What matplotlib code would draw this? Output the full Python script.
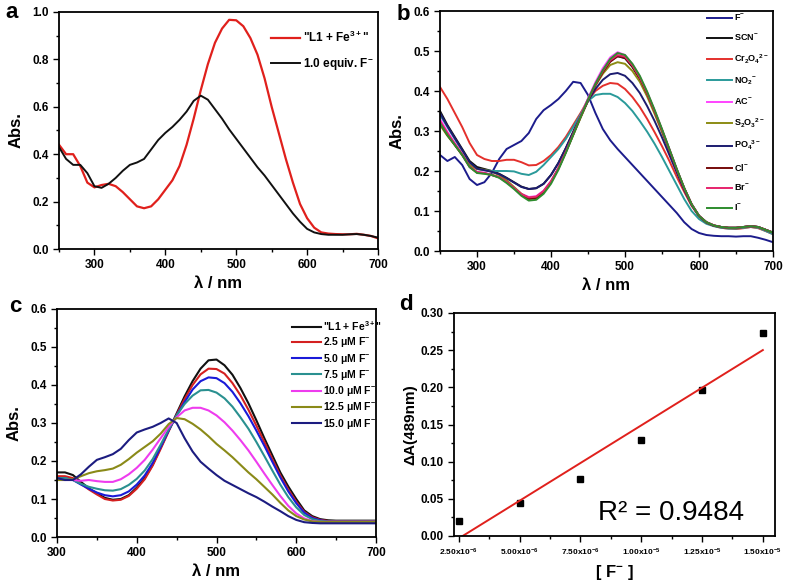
import numpy as np
import matplotlib
matplotlib.use('Agg')
import matplotlib.pyplot as plt
from matplotlib.ticker import MultipleLocator, FixedLocator

plt.rcParams['font.family'] = ['Liberation Sans', 'DejaVu Sans']
plt.rcParams['font.weight'] = 'bold'
plt.rcParams['mathtext.fontset'] = 'custom'
plt.rcParams['mathtext.rm'] = 'Liberation Sans:bold'
plt.rcParams['mathtext.bf'] = 'Liberation Sans:bold'
plt.rcParams['mathtext.it'] = 'Liberation Sans:bold'
plt.rcParams['mathtext.default'] = 'rm'

# ---- panel a ----
wl_a = list(range(250, 701, 10))
a_fe = [0.44, 0.40, 0.40, 0.35, 0.28, 0.26, 0.27, 0.275, 0.265, 0.24, 0.21, 0.18, 0.172, 0.18, 0.21, 0.25,
        0.29, 0.35, 0.44, 0.55, 0.67, 0.78, 0.87, 0.93, 0.967, 0.965, 0.94, 0.89, 0.82, 0.72, 0.60, 0.49,
        0.38, 0.28, 0.19, 0.13, 0.09, 0.07, 0.065, 0.063, 0.062, 0.062, 0.064, 0.06, 0.055, 0.045]
a_f = [0.43, 0.38, 0.355, 0.355, 0.32, 0.265, 0.258, 0.275, 0.30, 0.33, 0.355, 0.365, 0.38, 0.42, 0.46, 0.49,
       0.515, 0.545, 0.58, 0.625, 0.647, 0.63, 0.59, 0.55, 0.505, 0.465, 0.425, 0.385, 0.345, 0.31, 0.27, 0.23,
       0.19, 0.15, 0.115, 0.085, 0.07, 0.063, 0.06, 0.06, 0.06, 0.062, 0.063, 0.06, 0.055, 0.048]
a_labels = ['"L1 + Fe$^{3+}$"', '1.0 equiv. F$^{-}$']

# ---- panel b ----
wl_b = list(range(250, 701, 10))
b_F = [0.24, 0.225, 0.235, 0.215, 0.18, 0.165, 0.172, 0.195, 0.23, 0.255, 0.265, 0.275, 0.295, 0.33, 0.352, 0.365,
       0.38, 0.40, 0.423, 0.42, 0.39, 0.345, 0.305, 0.277, 0.255, 0.235, 0.215, 0.195, 0.175, 0.155, 0.135, 0.115,
       0.095, 0.072, 0.055, 0.045, 0.04, 0.038, 0.037, 0.037, 0.036, 0.037, 0.037, 0.033, 0.028, 0.022]
b_SCN = [0.35, 0.315, 0.285, 0.255, 0.225, 0.21, 0.205, 0.2, 0.193, 0.183, 0.172, 0.161, 0.155, 0.157, 0.168, 0.19,
         0.22, 0.257, 0.298, 0.34, 0.38, 0.418, 0.45, 0.475, 0.487, 0.482, 0.46, 0.43, 0.392, 0.348, 0.301, 0.252,
         0.203, 0.157, 0.117, 0.088, 0.072, 0.064, 0.06, 0.058, 0.058, 0.06, 0.062, 0.06, 0.053, 0.046]
b_Cr = [0.41, 0.38, 0.345, 0.31, 0.27, 0.24, 0.23, 0.225, 0.225, 0.228, 0.228, 0.222, 0.214, 0.215, 0.225, 0.24,
        0.26, 0.285, 0.315, 0.345, 0.377, 0.40, 0.413, 0.42, 0.418, 0.405, 0.385, 0.36, 0.33, 0.297, 0.262, 0.225,
        0.185, 0.148, 0.113, 0.087, 0.071, 0.063, 0.058, 0.056, 0.055, 0.057, 0.06, 0.057, 0.05, 0.042]
b_NO2 = [0.34, 0.31, 0.28, 0.25, 0.22, 0.205, 0.202, 0.2, 0.2, 0.2, 0.199, 0.193, 0.19, 0.198, 0.215, 0.235,
         0.255, 0.28, 0.31, 0.342, 0.375, 0.39, 0.393, 0.393, 0.385, 0.37, 0.35, 0.325, 0.298, 0.268, 0.235, 0.20,
         0.165, 0.13, 0.10, 0.08, 0.068, 0.062, 0.058, 0.056, 0.056, 0.058, 0.06, 0.058, 0.05, 0.042]
b_AC = [0.33, 0.298, 0.27, 0.243, 0.213, 0.198, 0.196, 0.19, 0.185, 0.173, 0.158, 0.143, 0.135, 0.137, 0.151, 0.175,
        0.208, 0.25, 0.294, 0.338, 0.381, 0.422, 0.457, 0.484, 0.497, 0.49, 0.467, 0.436, 0.396, 0.351, 0.303, 0.254,
        0.204, 0.157, 0.117, 0.088, 0.072, 0.064, 0.06, 0.058, 0.058, 0.06, 0.062, 0.06, 0.053, 0.046]
b_S2O3 = [0.315, 0.288, 0.265, 0.24, 0.215, 0.205, 0.203, 0.198, 0.19, 0.177, 0.16, 0.143, 0.132, 0.134, 0.149, 0.173,
          0.206, 0.247, 0.29, 0.333, 0.375, 0.413, 0.443, 0.465, 0.472, 0.468, 0.45, 0.423, 0.386, 0.343, 0.297, 0.25,
          0.202, 0.156, 0.116, 0.087, 0.071, 0.063, 0.06, 0.058, 0.058, 0.06, 0.062, 0.06, 0.053, 0.046]
b_PO4 = [0.345, 0.312, 0.282, 0.253, 0.222, 0.206, 0.202, 0.198, 0.192, 0.182, 0.171, 0.16, 0.155, 0.157, 0.168, 0.19,
         0.22, 0.257, 0.297, 0.337, 0.375, 0.405, 0.428, 0.442, 0.445, 0.438, 0.42, 0.395, 0.362, 0.325, 0.284, 0.24,
         0.196, 0.153, 0.115, 0.087, 0.071, 0.063, 0.06, 0.058, 0.058, 0.06, 0.062, 0.06, 0.053, 0.046]
b_Cl = [0.32, 0.29, 0.265, 0.24, 0.21, 0.196, 0.194, 0.19, 0.184, 0.172, 0.157, 0.14, 0.13, 0.132, 0.147, 0.172,
        0.206, 0.247, 0.291, 0.335, 0.377, 0.415, 0.447, 0.473, 0.487, 0.483, 0.462, 0.432, 0.393, 0.349, 0.302, 0.253,
        0.203, 0.157, 0.117, 0.088, 0.072, 0.064, 0.06, 0.058, 0.058, 0.06, 0.062, 0.06, 0.053, 0.046]
b_Br = [0.325, 0.295, 0.268, 0.242, 0.212, 0.197, 0.195, 0.19, 0.185, 0.173, 0.158, 0.142, 0.134, 0.136, 0.15, 0.174,
        0.207, 0.248, 0.292, 0.336, 0.378, 0.417, 0.45, 0.477, 0.49, 0.486, 0.464, 0.434, 0.395, 0.35, 0.303, 0.254,
        0.204, 0.157, 0.117, 0.088, 0.072, 0.064, 0.06, 0.058, 0.058, 0.06, 0.062, 0.06, 0.053, 0.046]
b_I = [0.32, 0.29, 0.265, 0.24, 0.21, 0.195, 0.193, 0.19, 0.183, 0.17, 0.155, 0.138, 0.126, 0.128, 0.143, 0.168,
       0.203, 0.245, 0.29, 0.335, 0.378, 0.418, 0.452, 0.48, 0.495, 0.49, 0.468, 0.438, 0.398, 0.353, 0.305, 0.255,
       0.205, 0.158, 0.117, 0.088, 0.072, 0.064, 0.06, 0.058, 0.058, 0.06, 0.062, 0.06, 0.053, 0.046]
b_labels = ['F$^{-}$', 'SCN$^{-}$', 'Cr$_{2}$O$_{4}$$^{2-}$', 'NO$_{2}$$^{-}$', 'AC$^{-}$',
            'S$_{2}$O$_{3}$$^{2-}$', 'PO$_{4}$$^{3-}$', 'Cl$^{-}$', 'Br$^{-}$', 'I$^{-}$']
b_colors = ['#1c1c8c', '#111111', '#e4302c', '#2a9a9a', '#ff44ff',
            '#8c8c14', '#1c1c70', '#760a0a', '#e6246c', '#2e8c2e']

# ---- panel c ----
wl_c = list(range(300, 701, 10))
c_0 = [0.17, 0.17, 0.163, 0.145, 0.128, 0.115, 0.103, 0.098, 0.10, 0.11, 0.13, 0.155, 0.19, 0.235, 0.28, 0.325,
       0.37, 0.41, 0.443, 0.465, 0.467, 0.452, 0.427, 0.392, 0.352, 0.307, 0.26, 0.215, 0.17, 0.133, 0.10, 0.07,
       0.055, 0.047, 0.044, 0.043, 0.043, 0.043, 0.043, 0.043, 0.043]
c_25 = [0.16, 0.16, 0.155, 0.14, 0.125, 0.112, 0.10, 0.096, 0.098, 0.108, 0.127, 0.152, 0.188, 0.232, 0.278, 0.322,
        0.363, 0.40, 0.428, 0.443, 0.442, 0.43, 0.405, 0.373, 0.335, 0.293, 0.25, 0.205, 0.162, 0.125, 0.093, 0.066,
        0.052, 0.045, 0.042, 0.042, 0.042, 0.042, 0.042, 0.042, 0.042]
c_50 = [0.155, 0.155, 0.15, 0.138, 0.127, 0.117, 0.11, 0.107, 0.11, 0.12, 0.138, 0.162, 0.195, 0.237, 0.28, 0.32,
        0.355, 0.388, 0.41, 0.42, 0.418, 0.405, 0.382, 0.352, 0.318, 0.28, 0.24, 0.198, 0.157, 0.12, 0.089, 0.064,
        0.05, 0.044, 0.041, 0.041, 0.041, 0.041, 0.041, 0.041, 0.041]
c_75 = [0.155, 0.155, 0.15, 0.14, 0.132, 0.127, 0.123, 0.122, 0.126, 0.137, 0.153, 0.175, 0.205, 0.243, 0.283, 0.32,
        0.35, 0.372, 0.386, 0.387, 0.38, 0.365, 0.343, 0.315, 0.285, 0.25, 0.213, 0.175, 0.138, 0.105, 0.078, 0.058,
        0.047, 0.042, 0.04, 0.04, 0.04, 0.04, 0.04, 0.04, 0.04]
c_100 = [0.15, 0.15, 0.15, 0.148, 0.15, 0.147, 0.145, 0.145, 0.152, 0.165, 0.182, 0.203, 0.23, 0.26, 0.29, 0.315,
         0.333, 0.34, 0.34, 0.333, 0.32, 0.302, 0.28, 0.255, 0.228, 0.198, 0.167, 0.137, 0.108, 0.082, 0.062, 0.049,
         0.042, 0.04, 0.04, 0.04, 0.04, 0.04, 0.04, 0.04, 0.04]
c_125 = [0.15, 0.15, 0.152, 0.16, 0.168, 0.173, 0.176, 0.18, 0.19, 0.205, 0.222, 0.237, 0.252, 0.272, 0.297, 0.313,
         0.31, 0.298, 0.283, 0.265, 0.245, 0.228, 0.21, 0.19, 0.17, 0.152, 0.132, 0.112, 0.09, 0.07, 0.055, 0.046,
         0.041, 0.04, 0.04, 0.04, 0.04, 0.04, 0.04, 0.04, 0.04]
c_150 = [0.155, 0.15, 0.15, 0.165, 0.185, 0.203, 0.21, 0.218, 0.232, 0.255, 0.275, 0.283, 0.29, 0.30, 0.312, 0.30,
         0.26, 0.225, 0.198, 0.18, 0.163, 0.148, 0.137, 0.126, 0.115, 0.105, 0.093, 0.08, 0.068, 0.055, 0.045, 0.039,
         0.037, 0.036, 0.036, 0.036, 0.036, 0.036, 0.036, 0.036, 0.036]
c_labels = ['"L1 + Fe$^{3+}$"', '2.5 μM F$^{-}$', '5.0 μM F$^{-}$', '7.5 μM F$^{-}$',
            '10.0 μM F$^{-}$', '12.5 μM F$^{-}$', '15.0 μM F$^{-}$']
c_colors = ['#111111', '#d42020', '#1a1ad8', '#2a9090', '#ee3cee', '#8a8a18', '#1c1c80']

# ---- panel d ----
d_conc = [2.5e-6, 5.0e-6, 7.5e-6, 1.0e-5, 1.25e-5, 1.5e-5]
d_dA = [0.020, 0.045, 0.077, 0.129, 0.197, 0.273]
d_ticklabels = ['2.50x10$^{-6}$', '5.00x10$^{-6}$', '7.50x10$^{-6}$',
                '1.00x10$^{-5}$', '1.25x10$^{-5}$', '1.50x10$^{-5}$']

W, H = 790, 584
fig = plt.figure(figsize=(W / 100, H / 100), dpi=100)


def box(l, t, r, b):
    return [l / W, 1 - b / H, (r - l) / W, (b - t) / H]


def style(ax, lsize=8.5):
    ax.tick_params(which='both', direction='out', top=False, right=False, labelsize=lsize, width=1)
    ax.tick_params(which='major', length=4)
    ax.tick_params(which='minor', length=2.5)
    for s in ax.spines.values():
        s.set_linewidth(1.3)
    for lab in ax.get_xticklabels() + ax.get_yticklabels():
        lab.set_fontweight('bold')


# a
ax = fig.add_axes(box(59, 12, 378, 249))
ax.plot(wl_a, a_fe, color='#e0201c', lw=1.6, label=a_labels[0])
ax.plot(wl_a, a_f, color='#111111', lw=1.4, label=a_labels[1])
ax.set_xlim(250, 700)
ax.set_ylim(0, 1.0)
ax.xaxis.set_major_locator(MultipleLocator(100))
ax.xaxis.set_minor_locator(MultipleLocator(50))
ax.yaxis.set_major_locator(MultipleLocator(0.2))
ax.yaxis.set_minor_locator(MultipleLocator(0.1))
ax.set_xlabel('λ / nm', fontsize=12, fontweight='bold', labelpad=3)
ax.set_ylabel('Abs.', fontsize=12, fontweight='bold', labelpad=6)
style(ax)
ax.legend(loc='upper left', bbox_to_anchor=(265 / W, 1 - 24 / H), bbox_transform=fig.transFigure,
          frameon=False, fontsize=8.5, handlelength=2.5, handletextpad=0.2, labelspacing=0.95, borderpad=0)

# b
ax = fig.add_axes(box(440, 11, 773, 251))
for y, lab, col in zip([b_F, b_SCN, b_Cr, b_NO2, b_AC, b_S2O3, b_PO4, b_Cl, b_Br, b_I], b_labels, b_colors):
    ax.plot(wl_b, y, color=col, lw=1.4, label=lab)
ax.set_xlim(250, 700)
ax.set_ylim(0, 0.6)
ax.xaxis.set_major_locator(MultipleLocator(100))
ax.xaxis.set_minor_locator(MultipleLocator(50))
ax.yaxis.set_major_locator(MultipleLocator(0.1))
ax.yaxis.set_minor_locator(MultipleLocator(0.05))
ax.set_xlabel('λ / nm', fontsize=12, fontweight='bold', labelpad=3)
ax.set_ylabel('Abs.', fontsize=12, fontweight='bold', labelpad=6)
style(ax)
ax.legend(loc='upper left', bbox_to_anchor=(702 / W, 1 - 8 / H), bbox_transform=fig.transFigure,
          frameon=False, fontsize=6.5, handlelength=2.8, handletextpad=0.3, labelspacing=1.05, borderpad=0)

# c
ax = fig.add_axes(box(57, 309, 376, 537))
for y, lab, col in zip([c_0, c_25, c_50, c_75, c_100, c_125, c_150], c_labels, c_colors):
    ax.plot(wl_c, y, color=col, lw=1.5, label=lab)
ax.set_xlim(300, 700)
ax.set_ylim(0, 0.6)
ax.xaxis.set_major_locator(MultipleLocator(100))
ax.xaxis.set_minor_locator(MultipleLocator(50))
ax.yaxis.set_major_locator(MultipleLocator(0.1))
ax.yaxis.set_minor_locator(MultipleLocator(0.05))
ax.set_xlabel('λ / nm', fontsize=12, fontweight='bold', labelpad=3)
ax.set_ylabel('Abs.', fontsize=12, fontweight='bold', labelpad=6)
style(ax)
ax.legend(loc='upper left', bbox_to_anchor=(287 / W, 1 - 314 / H), bbox_transform=fig.transFigure,
          frameon=False, fontsize=7.5, handlelength=2.8, handletextpad=0.2, labelspacing=0.22, borderpad=0)

# d
ax = fig.add_axes(box(454, 313, 775, 536))
ax.plot(d_conc, d_dA, 's', color='black', ms=4.5)
slope, icpt = np.polyfit(d_conc, d_dA, 1)
xs = np.array([d_conc[0], d_conc[-1]])
ax.plot(xs, slope * xs + icpt, color='#e0201c', lw=1.4)
ax.set_xlim(2.3e-6, 1.55e-5)
ax.set_ylim(0, 0.30)
ax.xaxis.set_major_locator(FixedLocator(d_conc))
ax.set_xticklabels(d_ticklabels)
ax.xaxis.set_minor_locator(MultipleLocator(1.25e-6))
ax.yaxis.set_major_locator(MultipleLocator(0.05))
ax.yaxis.set_minor_locator(MultipleLocator(0.025))
ax.yaxis.set_major_formatter(matplotlib.ticker.FormatStrFormatter('%.2f'))
style(ax)
ax.tick_params(axis='x', labelsize=6)
ax.set_xlabel('[ F$^{-}$ ]', fontsize=12, fontweight='bold', labelpad=4)
ax.set_ylabel('ΔA(489nm)', fontsize=11, fontweight='bold', labelpad=2)
ax.text(0.45, 0.07, 'R² = 0.9484', transform=ax.transAxes, fontsize=20, fontweight='normal')

# panel letters
for lx, ly, letter in [(12, 12, 'a'), (403, 14, 'b'), (15, 306, 'c'), (406, 305, 'd')]:
    fig.text(lx / W, 1 - ly / H, letter, fontsize=16, fontweight='bold', ha='center', va='center')

fig.savefig('out.png', dpi=100)
